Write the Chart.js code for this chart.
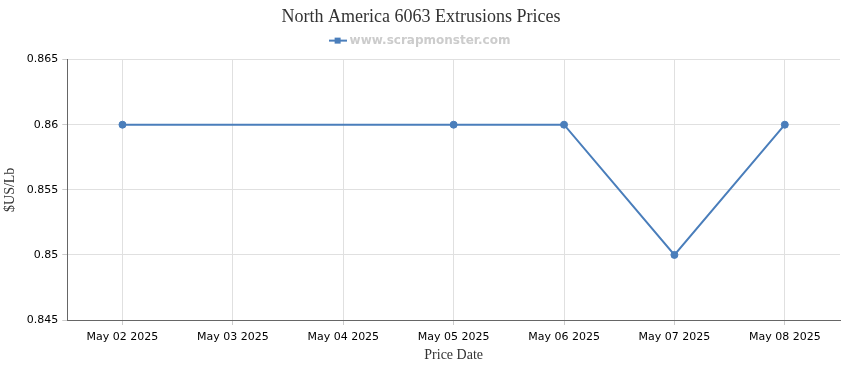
<!DOCTYPE html>
<html>
<head>
<meta charset="utf-8">
<script src="https://cdn.jsdelivr.net/npm/chart.js@4/dist/chart.umd.min.js"></script>
<style>
  html, body { margin: 0; padding: 0; background: #fff; }
  #wrap { width: 850px; height: 370px; }
</style>
</head>
<body>
<div id="wrap"><canvas id="price-chart"></canvas></div>
<script>
const priceDates = ['May 02 2025', 'May 03 2025', 'May 04 2025', 'May 05 2025', 'May 06 2025', 'May 07 2025', 'May 08 2025'];
const prices = [0.86, null, null, 0.86, 0.86, 0.85, 0.86];
const yTicks = [0.845, 0.85, 0.855, 0.86, 0.865];

const lineBlue = '#4a7ebb';

// legend marker: short line with a square in the middle
function legendMarker() {
    const c = document.createElement('canvas');
    c.width = 18; c.height = 8;
    const ctx = c.getContext('2d');
    ctx.strokeStyle = lineBlue; ctx.lineWidth = 2;
    ctx.beginPath(); ctx.moveTo(0, 4); ctx.lineTo(18, 4); ctx.stroke();
    ctx.fillStyle = lineBlue;
    ctx.fillRect(6, 1, 6, 6);
    return c;
}

const serif = '"Liberation Serif", "Times New Roman", serif';
const sans = '"DejaVu Sans", Verdana, sans-serif';

const chart = new Chart(document.getElementById('price-chart'), {
    type: 'line',
    data: {
        labels: priceDates,
        datasets: [{
            label: 'www.scrapmonster.com',
            data: prices,
            borderColor: lineBlue,
            backgroundColor: lineBlue,
            borderWidth: 2,
            pointRadius: 3.5,
            pointBorderWidth: 1,
            pointHoverRadius: 4,
            tension: 0,
            spanGaps: true,
            pointStyle: 'circle'
        }]
    },
    options: {
        responsive: true,
        maintainAspectRatio: false,
        animation: false,
        layout: {padding: {left: 2, right: 10, top: 0, bottom: 4}},
        plugins: {
            title: {
                display: true,
                text: 'North America 6063 Extrusions Prices',
                color: '#333',
                font: {family: serif, size: 18, weight: 'normal'},
                padding: {top: 6, bottom: 0}
            },
            legend: {
                display: true,
                labels: {
                    usePointStyle: true,
                    pointStyle: legendMarker(),
                    color: '#ccc',
                    font: {family: sans, size: 12, weight: 'bold'},
                    padding: 7
                }
            },
            tooltip: {enabled: false}
        },
        scales: {
            x: {
                type: 'category',
                offset: true,
                grid: {color: '#e0e0e0', offset: false, drawTicks: true, tickLength: 5, tickColor: '#ccc'},
                border: {color: '#666'},
                ticks: {color: '#000', font: {family: sans, size: 11}, maxRotation: 0, padding: 6},
                title: {display: true, text: 'Price Date', color: '#333', font: {family: serif, size: 14}, padding: {top: -3, bottom: 2}}
            },
            y: {
                min: 0.845,
                max: 0.865,
                afterBuildTicks: (scale) => { scale.ticks = yTicks.map(v => ({value: v})); },
                grid: {color: '#e0e0e0', drawTicks: true, tickLength: 5, tickColor: '#ccc'},
                border: {color: '#666'},
                ticks: {
                    color: '#000',
                    font: {family: sans, size: 11},
                    padding: 4,
                    callback: (v) => String(+(+v).toFixed(3))
                },
                title: {display: true, text: '$US/Lb', color: '#333', font: {family: serif, size: 14}, padding: {top: 0, bottom: 4}}
            }
        }
    }
});

// a bit more room under the legend
const legendFit = chart.legend.fit;
chart.legend.fit = function () { legendFit.call(this); this.height += 3; };
chart.update();
</script>
</body>
</html>
